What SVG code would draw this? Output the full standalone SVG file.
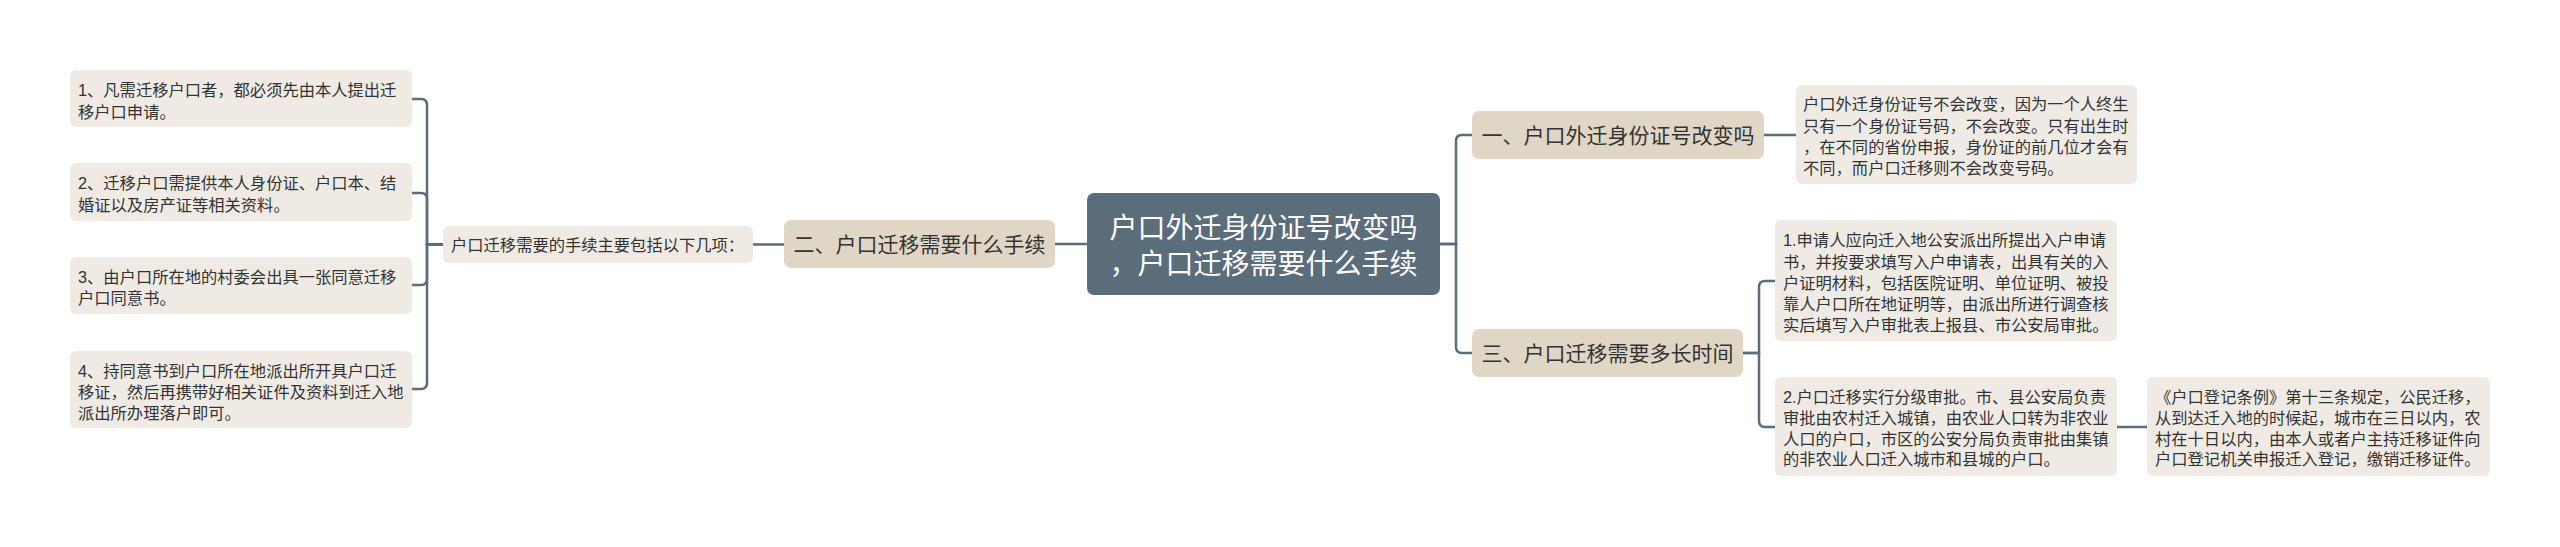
<svg xmlns="http://www.w3.org/2000/svg" width="2560" height="547" viewBox="0 0 2560 547">
<style>
text{font-family:"Liberation Sans","Noto Sans CJK SC",sans-serif;fill:#333333}
.leaf{fill:#EFEBE4}
.branch{fill:#E0D6C6}
.root{fill:#5B6C7A}
.t16{font-size:16.3px}
.t21{font-size:21px}
.t28{font-size:28px;fill:#FFFFFF}
.conn path{fill:none;stroke:#5B6C7A;stroke-width:2.5;stroke-linecap:round}
</style>
<rect width="2560" height="547" fill="#FFFFFF"/>
<g class="conn" id="connectors">
<path d="M443,244.5 H427 V105 Q427,99 421,99 H412"/>
<path d="M443,244.5 H427 V199 Q427,193 421,193 H412"/>
<path d="M443,244.5 H427 V279 Q427,285 421,285 H412"/>
<path d="M443,244.5 H427 V383 Q427,389 421,389 H412"/>
<path d="M753,244.5 H784"/>
<path d="M1055,244 H1087"/>
<path d="M1440,244 H1456 V141 Q1456,135 1462,135 H1472"/>
<path d="M1440,244 H1456 V347 Q1456,353 1462,353 H1472"/>
<path d="M1764,135 H1796"/>
<path d="M1743,353 H1759 V287 Q1759,281 1765,281 H1775"/>
<path d="M1743,353 H1759 V421 Q1759,427 1765,427 H1775"/>
<path d="M2117,427 H2147"/>
</g>
<g id="root">
<rect class="root" x="1087" y="193" width="353" height="102" rx="7"/>
<text class="t28" x="1263.5" y="238" text-anchor="middle">户口外迁身份证号改变吗</text>
<text class="t28" x="1263.5" y="274" text-anchor="middle">，户口迁移需要什么手续</text>
</g>
<g id="b2">
<rect class="branch" x="784" y="220" width="271" height="48" rx="7"/>
<text class="t21" x="919.5" y="252" text-anchor="middle">二、户口迁移需要什么手续</text>
</g>
<g id="mid">
<rect class="leaf" x="443" y="226" width="310" height="37" rx="6"/>
<text class="t16" x="451" y="250.5">户口迁移需要的手续主要包括以下几项：</text>
</g>
<g id="leaf1">
<rect class="leaf" x="70" y="70" width="342" height="57" rx="6"/>
<text class="t16" x="78" y="96">1、凡需迁移户口者，都必须先由本人提出迁</text>
<text class="t16" x="78" y="117.5">移户口申请。</text>
</g>
<g id="leaf2">
<rect class="leaf" x="70" y="163" width="342" height="58" rx="6"/>
<text class="t16" x="78" y="189">2、迁移户口需提供本人身份证、户口本、结</text>
<text class="t16" x="78" y="210.5">婚证以及房产证等相关资料。</text>
</g>
<g id="leaf3">
<rect class="leaf" x="70" y="257" width="342" height="57" rx="6"/>
<text class="t16" x="78" y="282.5">3、由户口所在地的村委会出具一张同意迁移</text>
<text class="t16" x="78" y="304">户口同意书。</text>
</g>
<g id="leaf4">
<rect class="leaf" x="70" y="351" width="342" height="77" rx="6"/>
<text class="t16" x="78" y="376.5">4、持同意书到户口所在地派出所开具户口迁</text>
<text class="t16" x="78" y="398">移证，然后再携带好相关证件及资料到迁入地</text>
<text class="t16" x="78" y="419">派出所办理落户即可。</text>
</g>
<g id="b1">
<rect class="branch" x="1472" y="111" width="292" height="48" rx="7"/>
<text class="t21" x="1618" y="143" text-anchor="middle">一、户口外迁身份证号改变吗</text>
</g>
<g id="b1leaf">
<rect class="leaf" x="1796" y="85" width="341" height="99" rx="6"/>
<text class="t16" x="1803" y="110">户口外迁身份证号不会改变，因为一个人终生</text>
<text class="t16" x="1803" y="131.5">只有一个身份证号码，不会改变。只有出生时</text>
<text class="t16" x="1803" y="152.5">，在不同的省份申报，身份证的前几位才会有</text>
<text class="t16" x="1803" y="174">不同，而户口迁移则不会改变号码。</text>
</g>
<g id="b3">
<rect class="branch" x="1472" y="329" width="271" height="48" rx="7"/>
<text class="t21" x="1607.5" y="361" text-anchor="middle">三、户口迁移需要多长时间</text>
</g>
<g id="b3leaf1">
<rect class="leaf" x="1775" y="220" width="342" height="121" rx="6"/>
<text class="t16" x="1783" y="246">1.申请人应向迁入地公安派出所提出入户申请</text>
<text class="t16" x="1783" y="267.5">书，并按要求填写入户申请表，出具有关的入</text>
<text class="t16" x="1783" y="288.5">户证明材料，包括医院证明、单位证明、被投</text>
<text class="t16" x="1783" y="309.5">靠人户口所在地证明等，由派出所进行调查核</text>
<text class="t16" x="1783" y="331">实后填写入户审批表上报县、市公安局审批。</text>
</g>
<g id="b3leaf2">
<rect class="leaf" x="1775" y="377" width="342" height="99" rx="6"/>
<text class="t16" x="1783" y="403">2.户口迁移实行分级审批。市、县公安局负责</text>
<text class="t16" x="1783" y="423.5">审批由农村迁入城镇，由农业人口转为非农业</text>
<text class="t16" x="1783" y="444.5">人口的户口，市区的公安分局负责审批由集镇</text>
<text class="t16" x="1783" y="465">的非农业人口迁入城市和县城的户口。</text>
</g>
<g id="b3leaf3">
<rect class="leaf" x="2147" y="377" width="343" height="99" rx="6"/>
<text class="t16" x="2155" y="403">《户口登记条例》第十三条规定，公民迁移，</text>
<text class="t16" x="2155" y="423.5">从到达迁入地的时候起，城市在三日以内，农</text>
<text class="t16" x="2155" y="444.5">村在十日以内，由本人或者户主持迁移证件向</text>
<text class="t16" x="2155" y="465">户口登记机关申报迁入登记，缴销迁移证件。</text>
</g>
</svg>
